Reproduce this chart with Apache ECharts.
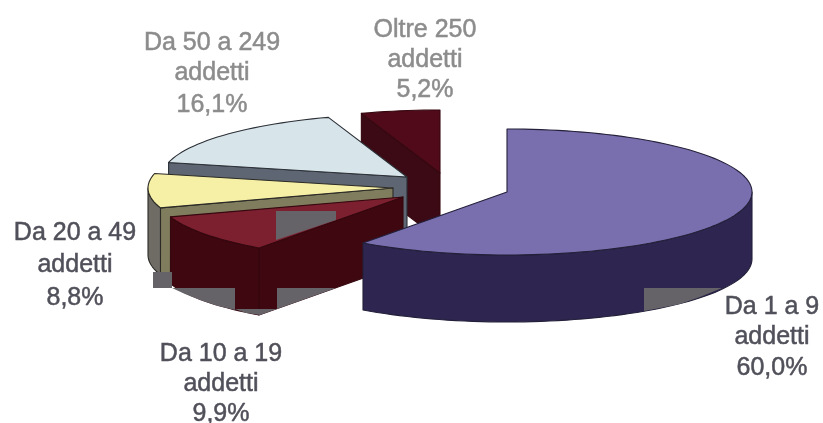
<!DOCTYPE html>
<html>
<head>
<meta charset="utf-8">
<style>html,body{margin:0;padding:0;background:#fff}#chart{width:823px;height:423px}</style>
<script src="https://cdn.jsdelivr.net/npm/echarts@6/dist/echarts.min.js"></script>
</head>
<body>
<div id="chart"></div>
<script>
// Companies by number of employees, as a share of the total (clockwise from 12 o'clock)
var categories = ['Da 1 a 9', 'Da 10 a 19', 'Da 20 a 49', 'Da 50 a 249', 'Oltre 250'];
var shares = [60.0, 9.9, 8.8, 16.1, 5.2];

// Wedge apex of each slice once pulled out of the pie
var apexX = [507, 403, 393, 407, 440];
var apexY = [192, 197, 188, 177, 173];

// Colours: top face, outer rim, cut side, outline
var topColors = ['#7a6fae', '#7c2030', '#f6efa6', '#d7e5ea', '#510a1a'];
var rimColors = ['#2e2650', '#3f0811', '#6f6c66', '#5d6672', '#3c0a14'];
var cutColors = ['#2e2650', '#3f0811', '#7f7d5e', '#5d6672', '#3c0a14'];
var edgeColors = ['#23203a', '#35070e', '#2b2a26', '#2b2f36', '#35080f'];

// Label placement: centre x and the vertical centre of each of the three lines
var labelX = [772, 221, 75, 212, 425];
var labelY = [[307, 337, 368], [354, 384, 414], [233, 265, 298], [43, 73, 105], [30, 60, 90]];
var labelColors = ['#50505a', '#50505a', '#50505a', '#8c8c8c', '#8c8c8c'];

// Slices are painted back to front
var paintOrder = [4, 3, 2, 1, 0];

var RX = 245, RY = 63, DEPTH = 67;

var total = shares.reduce(function (s, v) { return s + v; }, 0);
var starts = [];
shares.reduce(function (acc, v, i) { starts[i] = acc; return acc + v; }, 0);

function rimPoint(i, deg, drop) {
  var r = deg * Math.PI / 180;
  return [apexX[i] + RX * Math.sin(r), apexY[i] - RY * Math.cos(r) + (drop || 0)];
}
function arc(i, from, to, drop) {
  var pts = [], n = Math.max(2, Math.ceil(Math.abs(to - from) / 2));
  for (var k = 0; k <= n; k++) pts.push(rimPoint(i, from + (to - from) * k / n, drop));
  return pts;
}
function poly(points, fill, edge) {
  return {
    type: 'polygon',
    shape: { points: points },
    style: { fill: fill, stroke: edge, lineWidth: 1.1, lineJoin: 'round' }
  };
}

function renderSlice(params, api) {
  var i = api.value(0);
  var a0 = starts[i] / total * 360;
  var a1 = (starts[i] + shares[i]) / total * 360;
  var children = [];

  // Cut side facing the viewer (the clockwise-leading edge of back-left slices)
  if (Math.sin(a0 * Math.PI / 180) < -0.01) {
    var p = rimPoint(i, a0);
    children.push(poly([
      [apexX[i], apexY[i]], p, [p[0], p[1] + DEPTH], [apexX[i], apexY[i] + DEPTH]
    ], cutColors[i], edgeColors[i]));
  }
  // Outer rim, only where it turns toward the viewer
  var rimFrom = Math.max(a0, 90), rimTo = Math.min(a1, 270);
  if (rimTo > rimFrom) {
    children.push(poly(arc(i, rimFrom, rimTo, 0).concat(arc(i, rimTo, rimFrom, DEPTH)), rimColors[i], edgeColors[i]));
  }
  // Top face
  children.push(poly([[apexX[i], apexY[i]]].concat(arc(i, a0, a1, 0)), topColors[i], edgeColors[i]));

  // Label text
  var lines = [categories[i], 'addetti', shares[i].toFixed(1).replace('.', ',') + '%'];
  lines.forEach(function (line, k) {
    children.push({
      type: 'text',
      z2: 300,
      style: {
        x: labelX[i], y: labelY[i][k], text: line,
        align: 'center', verticalAlign: 'middle',
        fill: labelColors[i],
        stroke: labelColors[i],
        lineWidth: 0.5,
        font: '25px "Liberation Sans", Arial, sans-serif'
      }
    });
  });
  return { type: 'group', children: children };
}

// Flat grey print blocks lying over parts of the wedges
var greyBlocks = [
  [[276, 211], [336, 211], [336, 220], [276, 240]],
  [[153, 272], [172, 272], [172, 288], [153, 288]],
  [[172, 288], [235, 288], [235, 310], [218, 306], [200, 300], [185, 294]],
  [[235, 309], [277, 309], [260, 315], [246, 313]],
  [[277, 288], [336, 288], [277, 309]],
  [[644, 288], [722, 288], [700, 297], [680, 304], [660, 308], [644, 311]]
];

var chart = echarts.init(document.getElementById('chart'), null, { renderer: 'canvas' });
chart.setOption({
  animation: false,
  backgroundColor: '#ffffff',
  series: [{
    type: 'custom',
    coordinateSystem: 'none',
    silent: true,
    renderItem: renderSlice,
    data: paintOrder.map(function (i) { return [i, shares[i]]; })
  }],
  graphic: greyBlocks.map(function (pts) {
    return {
      type: 'polygon',
      z: 50,
      silent: true,
      shape: { points: pts },
      style: { fill: '#666368' }
    };
  })
});
</script>
</body>
</html>
